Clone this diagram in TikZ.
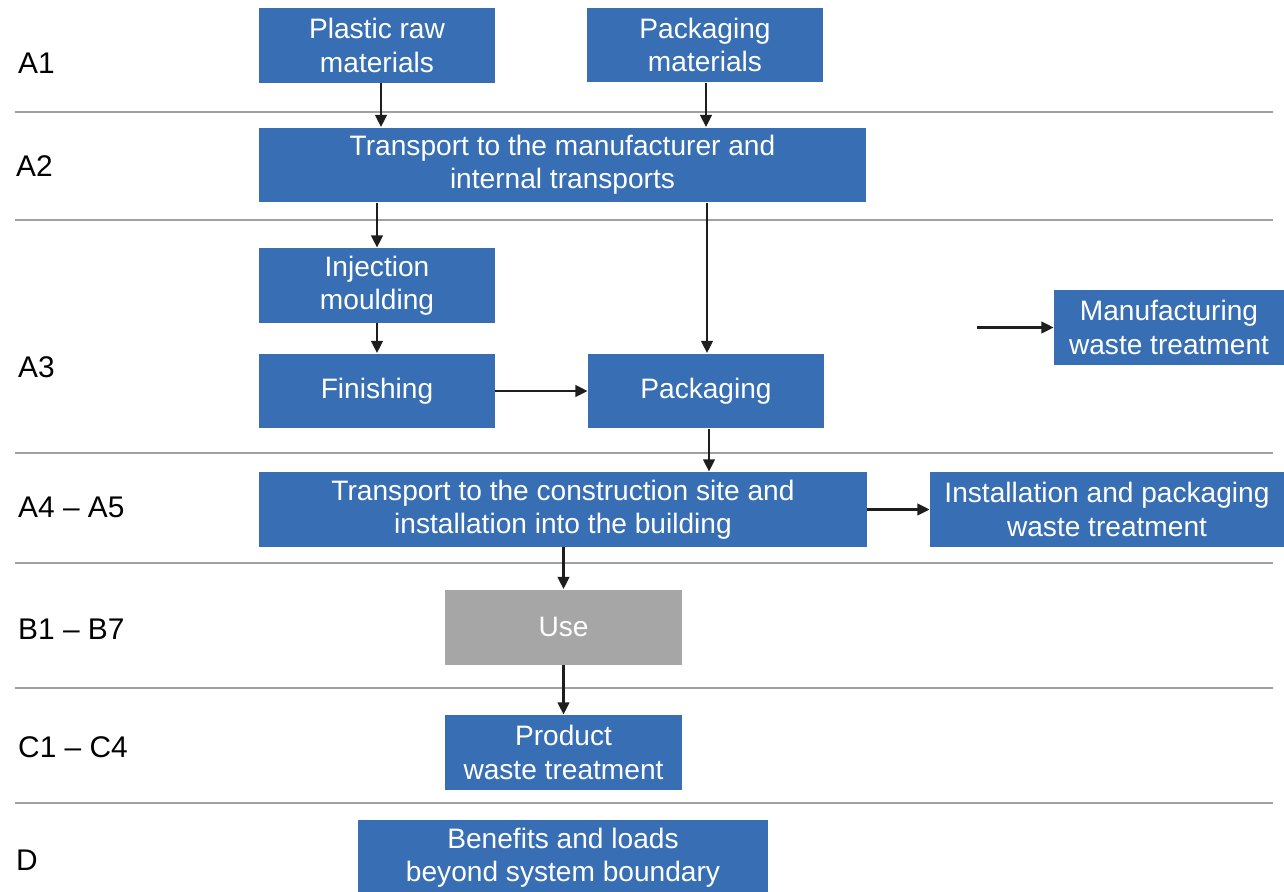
\documentclass[tikz,border=0pt]{standalone}
\usepackage{fontspec}
\setmainfont{Liberation Sans}
\usetikzlibrary{arrows.meta}
\definecolor{boxblue}{RGB}{56,111,180}
\definecolor{usegray}{RGB}{166,166,166}
\definecolor{linegray}{RGB}{160,160,160}
\definecolor{arrowblack}{RGB}{30,30,30}
\begin{document}
\begin{tikzpicture}[x=0.02cm, y=-0.02cm,
  stage/.style={rectangle, fill=boxblue, text=white, inner sep=0pt, align=center,
    font=\fontsize{16}{19}\selectfont, minimum height=1.5cm},
  phase/.style={anchor=west, font=\fontsize{17}{20}\selectfont, text=black},
  flow/.style={-{Triangle[length=7pt,width=6.5pt]}, line width=1.6pt, arrowblack},
  sep/.style={linegray, line width=0.8pt}]
\useasboundingbox (0,0) rectangle (1284,892);

% stage separators
\draw[sep] (15,112) -- (1273,112);
\draw[sep] (15,220) -- (1273,220);
\draw[sep] (15,453) -- (1273,453);
\draw[sep] (15,563) -- (1273,563);
\draw[sep] (15,688) -- (1273,688);
\draw[sep] (15,803) -- (1273,803);

% phase names
\node[phase] (pa1) at (12,63) {A1};
\node[phase] (pa2) at (10,166) {A2};
\node[phase] (pa3) at (12,367) {A3};
\node[phase] (pa45) at (12,507) {A4 -- A5};
\node[phase] (pb) at (12,629) {B1 -- B7};
\node[phase] (pc) at (12,747) {C1 -- C4};
\node[phase] (pd) at (10,860) {D};

% boxes
\draw
(377,45.5) node[stage, minimum width=4.72cm](plastic){Plastic raw\\materials}
(705,45) node[stage, minimum width=4.72cm](packmat){Packaging\\materials}
(562.5,165) node[stage, minimum width=12.14cm](transman){Transport to the manufacturer and\\internal transports}
(377,285.5) node[stage, minimum width=4.72cm](inject){Injection\\moulding}
(377,391) node[stage, minimum width=4.72cm](finish){Finishing}
(706,391) node[stage, minimum width=4.72cm](packing){Packaging}
(1169,327.5) node[stage, minimum width=4.6cm](manwaste){Manufacturing\\waste treatment}
(563,509.5) node[stage, minimum width=12.16cm](transsite){Transport to the construction site and\\installation into the building}
(1107,509.5) node[stage, minimum width=7.08cm](instwaste){Installation and packaging\\waste treatment}
(563.5,627) node[stage, minimum width=4.74cm, fill=usegray](use){Use}
(563.5,752.5) node[stage, minimum width=4.74cm](prodwaste){Product\\waste treatment}
(563,858) node[stage, minimum width=8.2cm, minimum height=1.52cm](beyond){Benefits and loads\\beyond system boundary};

\coordinate (mwstart) at (977,327.5);

% flows
\draw[flow] (plastic.south -| 381,0) -- (transman.north -| 381,0);
\draw[flow] (packmat.south -| 706,0) -- (transman.north -| 706,0);
\draw[flow] (transman.south -| inject.north) -- (inject.north);
\draw[flow] (transman.south -| 707,0) -- (packing.north -| 707,0);
\draw[flow] (inject) -- (finish);
\draw[flow] (finish) -- (packing);
\draw[flow] (packing.south -| 709,0) -- (transsite.north -| 709,0);
\draw[flow] (transsite) -- (instwaste);
\draw[flow] (transsite.south -| use.north) -- (use.north);
\draw[flow] (use) -- (prodwaste);
\draw[flow] (mwstart) -- (manwaste);

\end{tikzpicture}
\end{document}
